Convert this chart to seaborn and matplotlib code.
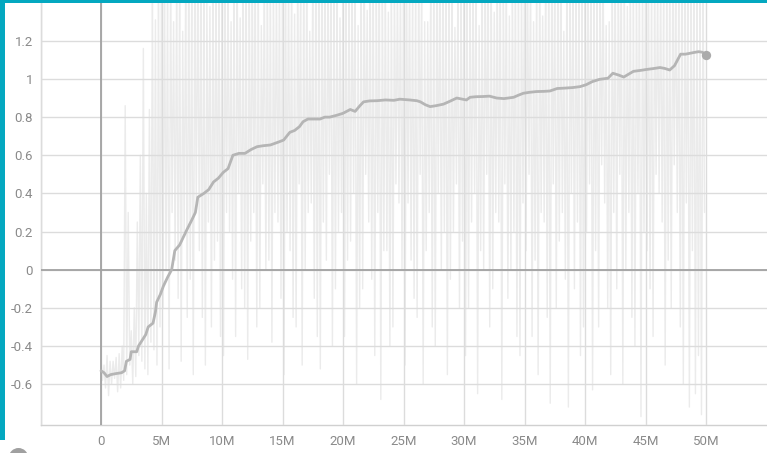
import numpy as np
import pandas as pd
import matplotlib
matplotlib.use("Agg")
import matplotlib.pyplot as plt
import seaborn as sns
from matplotlib.patches import Rectangle, Circle

# Smoothed reward curve: training step (millions) and value
smooth_steps_m = [
    0.0, 0.25, 0.5, 0.8, 1.2, 1.7, 1.95, 2.1, 2.4, 2.5, 2.95, 3.1, 3.4, 3.7, 3.9,
    4.3, 4.5, 4.6, 4.9, 5.15, 5.5, 5.84, 6.1, 6.5, 6.8, 7.1, 7.5, 7.8, 8.0, 8.5,
    8.9, 9.3, 9.7, 10.1, 10.5, 10.9, 11.4, 11.9, 12.4, 12.9, 13.4, 14.0, 14.7,
    15.1, 15.6, 16.0, 16.4, 16.7, 17.1, 17.6, 18.1, 18.5, 18.9, 19.5, 20.0, 20.6,
    21.0, 21.4, 21.7, 22.2, 22.8, 23.5, 24.2, 24.7, 25.5, 26.1, 26.4, 26.8, 27.2,
    27.7, 28.3, 28.9, 29.4, 30.2, 30.5, 31.0, 31.6, 32.1, 32.7, 33.3, 34.1, 34.5,
    34.9, 35.4, 36.0, 36.6, 37.1, 37.7, 38.3, 39.0, 39.6, 40.1, 40.6, 41.2, 41.9,
    42.3, 42.8, 43.2, 43.6, 44.0, 44.6, 45.1, 45.7, 46.2, 46.6, 47.0, 47.4, 47.9,
    48.3, 48.7, 49.1, 49.4, 49.7, 50.0,
]
smooth_values = [
    -0.53, -0.54, -0.56, -0.55, -0.545, -0.54, -0.53, -0.48, -0.47, -0.43, -0.43,
    -0.40, -0.37, -0.34, -0.30, -0.28, -0.22, -0.17, -0.13, -0.087, -0.04, 0.0,
    0.10, 0.13, 0.17, 0.21, 0.26, 0.30, 0.38, 0.40, 0.42, 0.46, 0.48, 0.51, 0.53,
    0.60, 0.61, 0.61, 0.63, 0.645, 0.65, 0.654, 0.67, 0.68, 0.72, 0.73, 0.75,
    0.776, 0.79, 0.79, 0.79, 0.80, 0.80, 0.81, 0.82, 0.84, 0.83, 0.86, 0.88,
    0.885, 0.886, 0.89, 0.888, 0.894, 0.89, 0.886, 0.88, 0.865, 0.855, 0.86,
    0.868, 0.885, 0.90, 0.89, 0.904, 0.907, 0.908, 0.91, 0.90, 0.897, 0.904,
    0.915, 0.925, 0.93, 0.934, 0.935, 0.937, 0.95, 0.952, 0.955, 0.96, 0.97,
    0.986, 0.998, 1.004, 1.03, 1.02, 1.01, 1.025, 1.04, 1.045, 1.05, 1.055, 1.06,
    1.055, 1.047, 1.07, 1.13, 1.13, 1.135, 1.14, 1.143, 1.14, 1.125,
]

# Raw (unsmoothed) reward: two interleaved peak/trough sequences, one entry per 0.5M steps
raw_peaks_a = [
    -0.47, -0.45, -0.48, -0.44, 0.86, -0.32, 0.25, 1.16, 0.84, 1.31,
    1.50, 1.48, 1.30, 1.52, 1.50, 1.45, 1.55, 1.50, 1.38, 1.50,
    1.55, 1.50, 1.52, 1.32, 1.50, 1.55, 1.48, 1.50, 1.52, 1.50,
    1.50, 1.55, 1.34, 1.50, 1.52, 1.50, 1.55, 1.48, 1.50, 1.50,
    1.52, 1.50, 1.55, 1.50, 1.36, 1.50, 1.55, 1.50, 1.52, 1.50,
    1.50, 1.55, 1.50, 1.52, 1.30, 1.50, 1.55, 1.50, 1.48, 1.50,
    1.55, 1.50, 1.52, 1.50, 1.50, 1.35, 1.55, 1.50, 1.52, 1.50,
    1.50, 1.55, 1.50, 1.33, 1.52, 1.50, 1.55, 1.50, 1.50, 1.52,
    1.50, 1.55, 1.50, 1.52, 1.30, 1.50, 1.55, 1.38, 1.50, 1.52,
    1.50, 1.55, 1.50, 1.52, 1.50, 1.55, 1.50, 1.52, 1.55, 1.50,
]
raw_troughs_a = [
    -0.58, -0.66, -0.57, -0.62, -0.55, -0.60, -0.45, -0.52, -0.38, -0.50,
    -0.20, -0.52, 0.05, -0.48, -0.25, -0.55, 0.10, -0.50, -0.30, 0.15,
    -0.45, 0.20, -0.35, -0.10, -0.47, 0.30, -0.20, 0.00, -0.38, 0.25,
    -0.55, 0.10, -0.30, -0.50, 0.30, -0.15, -0.52, 0.05, -0.40, 0.20,
    -0.35, 0.15, -0.60, -0.10, 0.25, -0.45, -0.68, 0.10, -0.30, 0.35,
    -0.50, 0.05, -0.25, -0.60, 0.30, -0.40, 0.00, -0.55, 0.20, -0.20,
    -0.45, 0.25, -0.65, 0.00, -0.30, 0.30, -0.68, -0.15, 0.20, -0.45,
    0.10, -0.35, -0.55, 0.25, -0.70, -0.20, 0.30, -0.72, -0.10, -0.45,
    0.20, -0.63, -0.30, 0.35, -0.55, -0.10, -0.60, 0.30, -0.40, -0.77,
    0.10, -0.35, 0.40, -0.50, -0.20, 0.30, -0.60, -0.72, -0.65, -0.76,
]
raw_peaks_b = [
    -0.50, -0.48, -0.46, -0.40, 0.30, -0.20, 0.60, 0.40, 1.45, 1.50,
    1.50, 1.52, 1.48, 1.25, 1.55, 1.50, 1.50, 1.40, 1.52, 1.50,
    1.50, 1.30, 1.55, 1.50, 1.52, 1.50, 1.28, 1.55, 1.50, 1.52,
    1.52, 1.50, 1.50, 1.55, 1.25, 1.50, 1.52, 1.50, 1.55, 1.32,
    1.50, 1.52, 1.28, 1.55, 1.50, 1.50, 1.52, 1.35, 1.50, 1.55,
    1.52, 1.50, 1.55, 1.30, 1.50, 1.52, 1.50, 1.55, 1.27, 1.50,
    1.50, 1.52, 1.28, 1.55, 1.50, 1.52, 1.50, 1.33, 1.55, 1.50,
    1.52, 1.30, 1.50, 1.55, 1.50, 1.52, 1.25, 1.50, 1.55, 1.50,
    1.55, 1.50, 1.52, 1.28, 1.50, 1.55, 1.50, 1.52, 1.50, 1.55,
    1.52, 1.50, 1.55, 1.50, 1.52, 1.50, 1.55, 1.52, 1.50, 1.55,
]
raw_troughs_b = [
    -0.62, -0.60, -0.64, -0.58, -0.50, -0.56, -0.48, -0.55, -0.42, -0.30,
    0.00, 0.30, -0.15, 0.20, -0.05, 0.35, -0.25, 0.25, 0.05, -0.35,
    0.30, -0.05, 0.40, -0.20, 0.15, -0.30, 0.45, 0.05, 0.30, -0.15,
    0.20, -0.25, 0.45, 0.00, 0.35, -0.35, 0.25, 0.50, -0.10, 0.30,
    0.05, 0.40, -0.20, 0.50, -0.05, 0.30, 0.10, -0.40, 0.45, 0.00,
    0.35, -0.15, 0.50, 0.10, -0.30, 0.40, 0.20, -0.05, 0.45, 0.15,
    -0.20, 0.40, 0.10, 0.50, -0.10, 0.25, 0.45, 0.00, -0.35, 0.35,
    0.50, 0.05, 0.30, -0.25, 0.45, 0.15, -0.05, 0.40, 0.25, -0.30,
    0.45, 0.10, 0.55, -0.20, 0.30, 0.50, 0.00, -0.25, 0.40, 0.20,
    -0.10, 0.50, 0.25, 0.05, 0.55, -0.30, 0.35, 0.10, -0.45, 0.30,
]
RAW_STEP_M = 0.125

x_ticks_m = [-5, 0, 5, 10, 15, 20, 25, 30, 35, 40, 45, 50]
x_tick_labels = ["", "0", "5M", "10M", "15M", "20M", "25M", "30M", "35M", "40M", "45M", "50M"]
y_ticks = [-0.6, -0.4, -0.2, 0.0, 0.2, 0.4, 0.6, 0.8, 1.0, 1.2]
y_tick_labels = ["-0.6", "-0.4", "-0.2", "0", "0.2", "0.4", "0.6", "0.8", "1", "1.2"]

sns.set_theme(style="white")
plt.rcParams["font.family"] = ["Liberation Sans Narrow", "Roboto", "DejaVu Sans"]

raw_values = []
for pa, ta, pb, tb in zip(raw_peaks_a, raw_troughs_a, raw_peaks_b, raw_troughs_b):
    raw_values += [pa, ta, pb, tb]
raw = pd.DataFrame({"step": np.arange(len(raw_values)) * RAW_STEP_M, "value": raw_values})
smooth = pd.DataFrame({"step": smooth_steps_m, "value": smooth_values})

W, H = 767, 453
fig = plt.figure(figsize=(W / 100, H / 100), dpi=100)
fig.patch.set_facecolor("white")
ax = fig.add_axes([40.5 / W, 28.5 / H, (W - 40.5) / W, (H - 28.5) / H])
ax.set_facecolor("white")

sns.lineplot(data=raw, x="step", y="value", ax=ax, color="#ebebeb",
             linewidth=1.0, estimator=None, sort=False, zorder=1)

ax.set_xlim(-5, 55.04)
ax.set_ylim(-0.8115, 1.414)
ax.set_xticks(x_ticks_m)
ax.set_xticklabels(x_tick_labels)
ax.set_yticks(y_ticks)
ax.set_yticklabels(y_tick_labels)
ax.set_axisbelow(False)
ax.grid(True, color="#dcdcdc", linewidth=1.0)

ax.axhline(0, color="#a2a2a2", linewidth=1.3, zorder=3)
ax.axvline(0, color="#a2a2a2", linewidth=1.3, zorder=3)

sns.lineplot(data=smooth, x="step", y="value", ax=ax, color="#b5b5b5",
             linewidth=2.0, estimator=None, sort=False, zorder=4)
ax.scatter([smooth_steps_m[-1]], [smooth_values[-1]], s=45, color="#ababab",
           zorder=5, linewidths=0)

for side in ("top", "right"):
    ax.spines[side].set_visible(False)
for side in ("left", "bottom"):
    ax.spines[side].set_color("#d0d0d0")
    ax.spines[side].set_linewidth(1.0)

ax.tick_params(axis="both", length=3, width=1, color="#d6d6d6",
               labelcolor="#8a8a8a", labelsize=9.5)
ax.tick_params(axis="x", pad=4.5)
ax.tick_params(axis="y", pad=2.5)
ax.set_xlabel("")
ax.set_ylabel("")

# Frame accents around the panel
fig.add_artist(Rectangle((0, 1 - 3 / H), 1, 3 / H, transform=fig.transFigure,
                         color="#04a8c0", zorder=10, linewidth=0))
fig.add_artist(Rectangle((0, 13 / H), 4.5 / W, (H - 13) / H, transform=fig.transFigure,
                         color="#04a8c0", zorder=10, linewidth=0))
fig.add_artist(Circle((18.5, -4.7), 9.7, transform=None, color="#a0a0a0",
                      zorder=10, linewidth=0))

fig.savefig("out.png", dpi=100)
